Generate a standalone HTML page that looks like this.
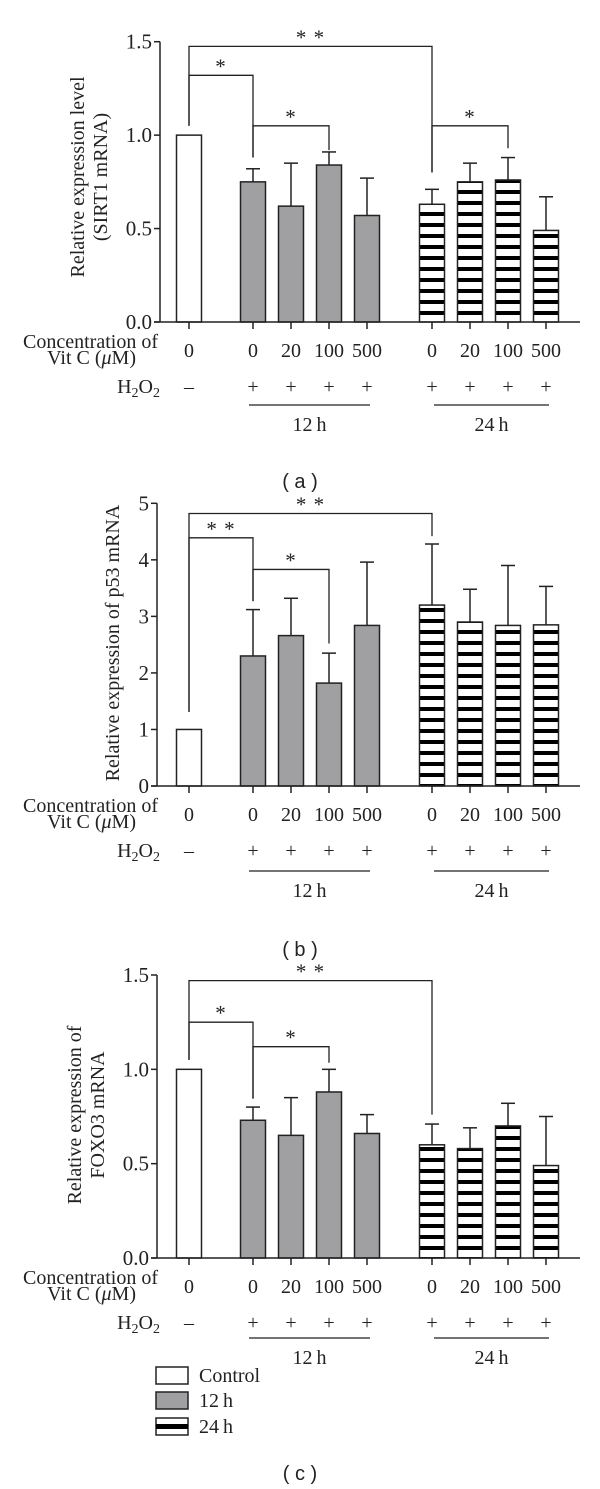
<!DOCTYPE html>
<html><head><meta charset="utf-8"><style>
html,body{margin:0;padding:0;background:#fff;}
svg{display:block;font-family:"Liberation Serif",serif;}
.cap{font-family:"Liberation Sans",sans-serif;}
</style></head><body>
<svg id="fig" width="600" height="1489" viewBox="0 0 600 1489" xmlns="http://www.w3.org/2000/svg">
<defs>
<pattern id="stripes" patternUnits="userSpaceOnUse" width="20" height="11" y="0">
<rect x="0" y="0" width="20" height="11" fill="#fff"/>
<rect x="0" y="3" width="20" height="4" fill="#000"/>
</pattern>
</defs>
</svg>
<script>
// ---- data ----
const categories = ["0","0","20","100","500","0","20","100","500"];
const groups = ["control","12h","12h","12h","12h","24h","24h","24h","24h"];
const h2o2 = ["\u2013","+","+","+","+","+","+","+","+"];
const sirt1Values = [1.0,0.75,0.62,0.84,0.57,0.63,0.75,0.76,0.49];
const sirt1Errors = [null,0.82,0.85,0.91,0.77,0.71,0.85,0.88,0.67];
const p53Values = [1.0,2.3,2.66,1.82,2.84,3.2,2.9,2.84,2.85];
const p53Errors = [null,3.12,3.32,2.35,3.96,4.28,3.48,3.9,3.53];
const foxo3Values = [1.0,0.73,0.65,0.88,0.66,0.60,0.58,0.70,0.49];
const foxo3Errors = [null,0.80,0.85,1.0,0.76,0.71,0.69,0.82,0.75];
const sirt1Ticks = ["0.0","0.5","1.0","1.5"];
const p53Ticks = ["0","1","2","3","4","5"];
const foxo3Ticks = ["0.0","0.5","1.0","1.5"];
// brackets: [fromIdx, toIdx, height, leftLegEnd, rightLegEnd, label]
const sirt1Brackets = [[0,5,1.475,1.05,0.80,"**"],[0,1,1.32,1.05,0.88,"*"],[1,3,1.05,0.88,0.92,"*"],[5,7,1.05,0.80,0.93,"*"]];
const p53Brackets = [[0,5,4.82,1.31,4.42,"**"],[0,1,4.39,1.31,3.27,"**"],[1,3,3.83,3.27,2.52,"*"]];
const foxo3Brackets = [[0,5,1.47,1.05,0.76,"**"],[0,1,1.25,1.05,0.845,"*"],[1,3,1.12,0.845,1.035,"*"]];

const svg = document.getElementById('fig');
const NS = "http://www.w3.org/2000/svg";
function mk(tag, attrs, parent){
  const e = document.createElementNS(NS, tag);
  for (const k in attrs) e.setAttribute(k, attrs[k]);
  (parent||svg).appendChild(e);
  return e;
}
const barX = [189,253,291,329,367,432,470,508,546];
const BW = 25;
const FS = 20;

function panel(o){
  const g = mk('g', {});
  
  
  const y = v => o.y0 - (v / o.max) * (o.y0 - o.y1);
  o.values.forEach((v,i)=>{
    const fill = groups[i]==="control" ? "#fff" : groups[i]==="12h" ? "#a0a0a2" : "url(#stripes)";
    if (o.errors[i]!==null){
      const l = mk('line',{x1:barX[i],x2:barX[i],y1:y(v),y2:y(o.errors[i]),stroke:"#222","stroke-width":1.5},g);
      
      
      mk('line',{x1:barX[i]-7,x2:barX[i]+7,y1:y(o.errors[i]),y2:y(o.errors[i]),stroke:"#222","stroke-width":1.5},g);
    }
    const r = mk('rect',{x:barX[i]-BW/2,y:y(v),width:BW,height:o.y0-y(v),fill:fill,stroke:"#222","stroke-width":1.5},g);
    
    
  });
  const ya = mk('line',{x1:o.ax,x2:o.ax,y1:o.y1,y2:o.y0,stroke:"#222","stroke-width":1.5},g);
  
  
  const xa = mk('line',{x1:o.ax-6,x2:580,y1:o.y0,y2:o.y0,stroke:"#222","stroke-width":1.5},g);
  
  
  o.ticks.forEach(t=>{
    const v = parseFloat(t);
    mk('line',{x1:o.ax-6,x2:o.ax,y1:y(v),y2:y(v),stroke:"#222","stroke-width":1.5},g);
    const tx = mk('text',{x:o.ax-8,y:y(v)+7,"text-anchor":"end","font-size":FS+1,fill:"#222"},g);
    tx.textContent = t;
    
    
  });
  barX.forEach(x=>mk('line',{x1:x,x2:x,y1:o.y0,y2:o.y0+7,stroke:"#222","stroke-width":1.5},g));
  const yt = mk('text',{transform:`translate(${o.tx},${o.ty}) rotate(-90)`,"text-anchor":"middle","font-size":FS,fill:"#222"},g);
  
  
  o.title.forEach((line,k)=>{
    const ts = mk('tspan',{x:0,dy:k===0?0:23},yt); ts.textContent=line;
  });
  o.brackets.forEach(b=>{
    const xa1 = barX[b[0]], xb = barX[b[1]], yh = y(b[2]);
    const p = mk('path',{d:`M${xa1},${y(b[3])}V${yh}H${xb}V${y(b[4])}`,fill:"none",stroke:"#222","stroke-width":1.3},g);
    
    
    const s = mk('text',{x:(xa1+xb)/2,y:yh-2,"text-anchor":"middle","font-size":21,fill:"#222","letter-spacing":"1"},g);
    s.textContent = b[5].split('').join(' ');
    
    
  });
  const c1 = mk('text',{x:158,y:o.y0+26,"text-anchor":"end","font-size":FS,fill:"#222"},g);
  c1.textContent = "Concentration of";
  
  
  const c2 = mk('text',{x:136,y:o.y0+42,"text-anchor":"end","font-size":FS,fill:"#222"},g);
  c2.innerHTML = 'Vit C (<tspan font-style="italic">\u03bc</tspan>M)';
  
  
  categories.forEach((c,i)=>{
    const t = mk('text',{x:barX[i],y:o.y0+35,"text-anchor":"middle","font-size":FS,fill:"#222"},g);
    t.textContent = c;
    
    
    const h = mk('text',{x:barX[i],y:o.y0+71,"text-anchor":"middle","font-size":FS,fill:"#222"},g);
    h.textContent = h2o2[i];
    
    
  });
  const hl = mk('text',{x:160,y:o.y0+71,"text-anchor":"end","font-size":FS,fill:"#222"},g);
  hl.innerHTML = 'H<tspan font-size="14" dy="4">2</tspan><tspan dy="-4">O</tspan><tspan font-size="14" dy="4">2</tspan>';
  
  
  [[249,370,"12\u2009h"],[434,549,"24\u2009h"]].forEach(s=>{
    mk('line',{x1:s[0],x2:s[1],y1:o.y0+o.lineOff,y2:o.y0+o.lineOff,stroke:"#222","stroke-width":1.2},g);
    const t = mk('text',{x:(s[0]+s[1])/2,y:o.y0+o.lineOff+26,"text-anchor":"middle","font-size":FS,fill:"#222"},g);
    t.textContent = s[2];
    
    
  });
  const cap = mk('text',{x:300,y:o.capY,"text-anchor":"middle","font-size":20,fill:"#222",class:"cap"},g);
  cap.textContent = o.cap;
  
  
}

panel({name:"panel-a-sirt1",values:sirt1Values,errors:sirt1Errors,ticks:sirt1Ticks,brackets:sirt1Brackets,max:1.5,y0:322,y1:41.7,ax:160,
  title:["Relative expression level","(SIRT1 mRNA)"],tx:84,ty:177,lineOff:83,capY:488,cap:"( a )"});
panel({name:"panel-b-p53",values:p53Values,errors:p53Errors,ticks:p53Ticks,brackets:p53Brackets,max:5,y0:786,y1:503.3,ax:157,
  title:["Relative expression of p53 mRNA"],tx:119,ty:643,lineOff:85,capY:956,cap:"( b )"});
panel({name:"panel-c-foxo3",values:foxo3Values,errors:foxo3Errors,ticks:foxo3Ticks,brackets:foxo3Brackets,max:1.5,y0:1258,y1:975,ax:157,
  title:["Relative expression of","FOXO3 mRNA"],tx:81,ty:1115,lineOff:80,capY:1480,cap:"( c )"});

const lg = mk('g',{});


[["Control","#fff",1367],["12 h","#a0a0a2",1392],["24 h","stripe",1418]].forEach(l=>{
  if (l[1]==="stripe"){
    mk('rect',{x:156,y:l[2],width:32,height:17,fill:"#fff",stroke:"#222","stroke-width":1.5},lg);
    mk('rect',{x:156,y:l[2]+6,width:32,height:5,fill:"#000"},lg);
  } else {
    mk('rect',{x:156,y:l[2],width:32,height:17,fill:l[1],stroke:"#222","stroke-width":1.5},lg);
  }
  const t = mk('text',{x:199,y:l[2]+15,"font-size":FS,fill:"#222"},lg);
  t.textContent = l[0].replace(" ","\u2009");
  
  
});
</script>
</body></html>
